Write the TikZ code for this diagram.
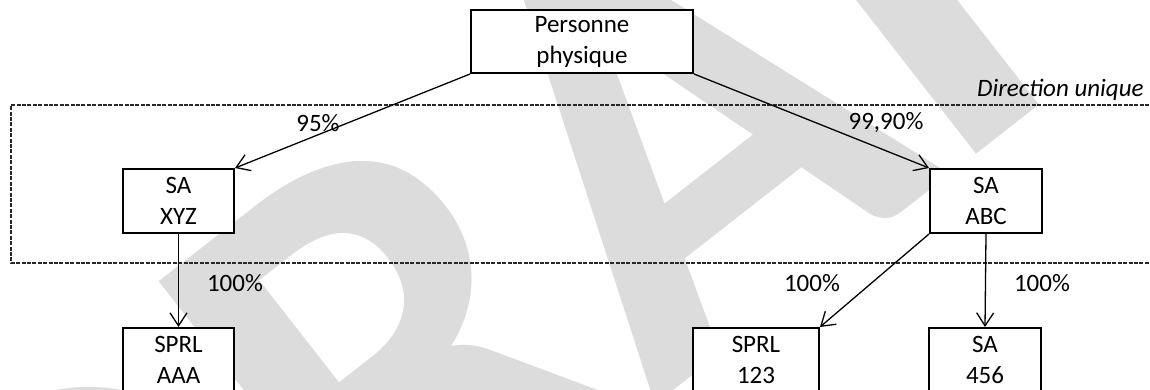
\documentclass[tikz,border=0pt]{standalone}
\usepackage{fontspec}
\setmainfont{Carlito}
\usetikzlibrary{arrows.meta}
\definecolor{wmgray}{RGB}{220,220,220}
\definecolor{framegray}{RGB}{40,40,40}
\tikzset{
  entity/.style={draw=black, line width=1pt, fill=white, inner sep=0pt,
    align=center, font=\fontsize{12.5}{15.5}\selectfont},
  share/.style={draw=black, line width=0.65pt,
    -{Straight Barb[length=6.5pt,width=8.5pt,line width=0.65pt]}},
  pct/.style={inner sep=0pt, font=\fontsize{12.5}{15.5}\selectfont},
  frame/.style={draw=framegray, line width=0.8pt, dash pattern=on 2pt off 0.7pt},
}
\begin{document}
\begin{tikzpicture}[x=0.5pt, y=-0.5pt]
  \useasboundingbox (0,0) rectangle (1150,390);
  \fill[white] (0,0) rectangle (1150,390);

  % background watermark
  \node[rotate=38, text=wmgray, inner sep=0pt,
        font=\fontsize{310}{310}\selectfont\bfseries] (wmark) at (620,177) {DRAFT};

  % group frame with its caption
  \draw[frame] (1160,105) -- (11,105) -- (11,263) -- (1160,263);
  \node[pct, anchor=base east, font=\fontsize{12.5}{15.5}\selectfont\itshape]
    (cap) at (1144,97) {Direction unique};

  % entities
  \node[entity, minimum width=111pt, minimum height=31.5pt] (pp)   at (582,41.5)  {Personne\\physique};
  \node[entity, minimum width=55.5pt, minimum height=32pt]  (xyz)  at (178.5,201) {SA\\XYZ};
  \node[entity, minimum width=56pt,   minimum height=32pt]  (abc)  at (986,201)   {SA\\ABC};
  \node[entity, minimum width=55.5pt, minimum height=32pt]  (aaa)  at (178.5,360) {SPRL\\AAA};
  \node[entity, minimum width=63pt,   minimum height=32pt]  (s123) at (756,360)   {SPRL\\123};
  \node[entity, minimum width=56pt,   minimum height=32pt]  (s456) at (985,360)   {SA\\456};

  % shareholdings
  \draw[share] (pp.south west) -- (xyz.north east);
  \draw[share] (pp.south east) -- (abc.north west);
  \draw[share] (xyz.south) -- (aaa.north);
  \draw[share] (abc.south west) -- (s123.north east);
  \draw[share] (abc.south) -- (s456.north);

  % percentages
  \node[pct] (p95)  at (318,123)  {95\%};
  \node[pct] (p999) at (886,123)  {99,90\%};
  \node[pct] (paaa) at (235,283)  {100\%};
  \node[pct] (p123) at (812,283)  {100\%};
  \node[pct] (p456) at (1042,283) {100\%};
\end{tikzpicture}
\end{document}
